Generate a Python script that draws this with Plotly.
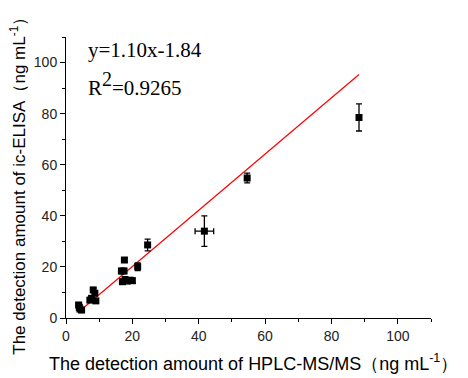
import plotly.graph_objects as go

# HPLC-MS/MS (x) vs ic-ELISA (y), ng/mL
hplc = [3.8, 4.0, 4.2, 4.7, 7.2, 7.7, 8.2, 8.7, 9.0, 16.7, 17.5, 17.6, 17.0, 17.8, 18.5, 19.3, 20.0, 21.6, 24.6, 41.7, 54.6, 88.3]
elisa = [5.1, 4.2, 3.5, 3.1, 7.0, 7.7, 11.0, 9.7, 6.7, 18.4, 18.4, 22.7, 14.2, 15.0, 14.5, 14.8, 14.6, 20.1, 28.6, 34.0, 54.8, 78.5]
hplc_err = [0.3, 0.3, 0.3, 0.3, 0.3, 0.3, 0.3, 0.3, 0.3, 0.5, 0.5, 0.3, 0.5, 0.5, 0.5, 0.5, 0.5, 0.5, 0.5, 2.8, 0.5, 0.5]
elisa_err = [0.6, 0.5, 0.5, 0.5, 0.6, 0.6, 0.8, 0.8, 0.6, 1.0, 1.0, 0.8, 1.0, 1.2, 1.0, 1.0, 1.0, 1.5, 2.3, 6.0, 1.9, 5.3]

slope = 1.10
intercept = -1.84
fit_x = [5.5, 88.3]
fit_y = [slope * v + intercept for v in fit_x]

fig = go.Figure()
fig.add_trace(go.Scatter(
    x=fit_x, y=fit_y, mode="lines",
    line=dict(color="red", width=1.2), showlegend=False, hoverinfo="skip"))
fig.add_trace(go.Scatter(
    x=hplc, y=elisa, mode="markers",
    marker=dict(symbol="square", size=7, color="black"),
    error_y=dict(type="data", array=elisa_err, color="black", thickness=1.3, width=3),
    error_x=dict(type="data", array=hplc_err, color="black", thickness=1.3, width=3),
    showlegend=False))

axis_common = dict(
    range=[0, 110], dtick=20, tick0=0,
    showline=True, linecolor="black", linewidth=1,
    ticks="outside", ticklen=5, tickwidth=1, tickcolor="black",
    minor=dict(ticks="outside", dtick=10, ticklen=3, tickcolor="black"),
    showgrid=False, zeroline=False,
    tickfont=dict(family="Liberation Sans, Arial", size=14, color="#222"),
)
fig.update_xaxes(**axis_common)
fig.update_yaxes(**axis_common)

fig.update_layout(
    width=468, height=378,
    margin=dict(l=66, r=37, t=37, b=60),
    plot_bgcolor="white", paper_bgcolor="white",
    annotations=[
        dict(text="y=1.10x-1.84", xref="paper", yref="paper",
             x=20 / 365, y=(318 - 50) / 280.5, xanchor="left", yanchor="middle",
             showarrow=False, font=dict(family="Liberation Serif, Times New Roman", size=21, color="black")),
        dict(text="R<sup><span style='font-size:20px'>2</span></sup>=0.9265", xref="paper", yref="paper",
             x=20 / 365, y=(318 - 84) / 280.5, xanchor="left", yanchor="middle",
             showarrow=False, font=dict(family="Liberation Serif, Times New Roman", size=21, color="black")),
        dict(text="The detection amount of HPLC-MS/MS（ng mL<sup>-1</sup>）",
             xref="paper", yref="paper", x=(253 - 66) / 365, y=-(362 - 318) / 280.5,
             xanchor="center", yanchor="middle", showarrow=False,
             font=dict(family="Liberation Sans, Arial", size=18, color="black")),
        dict(text="The detection amount of ic-ELISA（ng mL<sup>-1</sup>）",
             xref="paper", yref="paper", x=-(66 - 18) / 365, y=(318 - 182) / 280.5,
             xanchor="center", yanchor="middle", showarrow=False, textangle=-90,
             font=dict(family="Liberation Sans, Arial", size=17, color="black")),
    ],
)

fig.write_html("out.html")
